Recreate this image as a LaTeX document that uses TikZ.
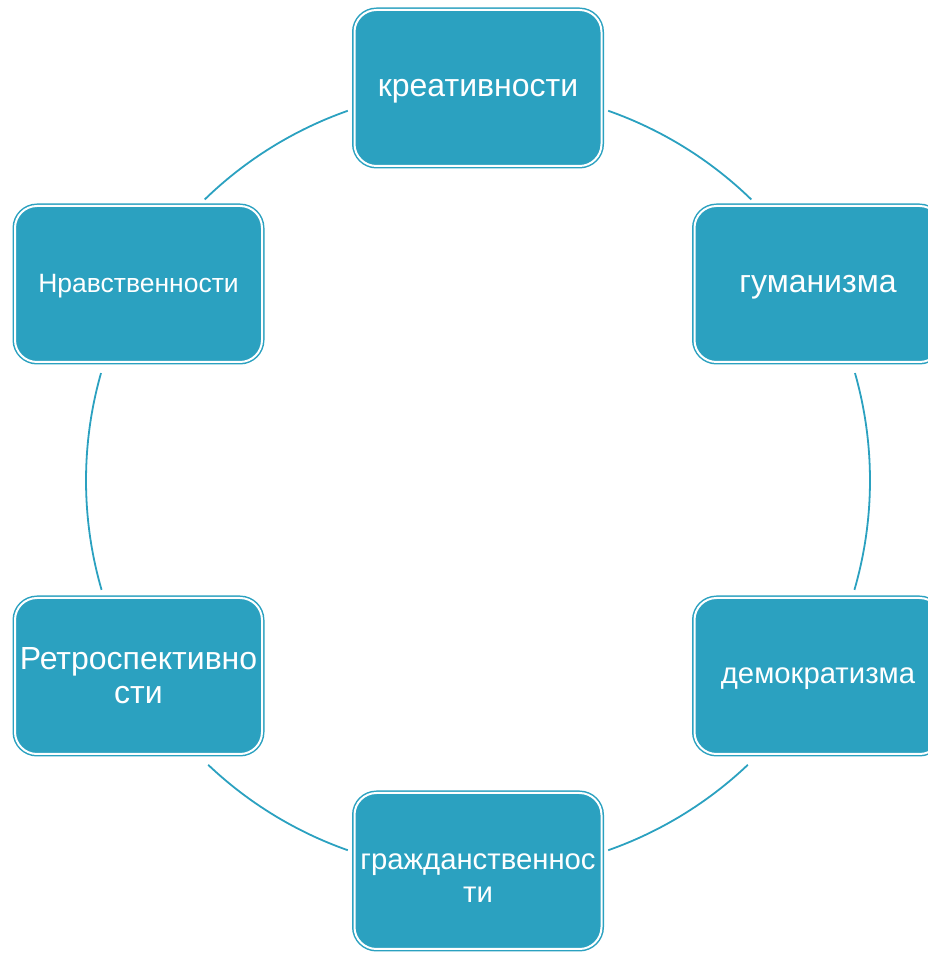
\documentclass[tikz,border=0pt]{standalone}
\usepackage{fontspec}
\setmainfont{Liberation Sans}
\definecolor{boxblue}{RGB}{43,161,192}
\begin{document}
\begin{tikzpicture}[x=1pt,y=1pt,
  vbox/.style={rectangle, rounded corners=22pt, minimum width=247pt, minimum height=156pt,
    fill=boxblue, draw=boxblue, line width=1.5pt, double=white, double distance=2pt,
    text=white, align=center, inner sep=0pt, font=\fontsize{32}{34}\selectfont},
  oneline/.style={text height=#1, text depth=0pt},
  ring/.style={draw=boxblue, line width=1.8pt}]
\useasboundingbox (0,0) rectangle (928,954);
\coordinate (c) at (478,473.5);
\def\R{392}
% ring arcs
\foreach \a/\b in {109.4/134.2, 164.1/196.2, 226.5/250.6, 70.6/45.8, 15.9/-16.2, -46.5/-70.6}{
  \draw[ring] ([shift={(\a:\R)}]c) arc[start angle=\a, end angle=\b, radius=\R];
}
\node[vbox, oneline=16.6pt] (kre) at (478,866) {креативности};
\node[vbox, oneline=16.6pt] (gum) at (818,670) {гуманизма};
\node[vbox, oneline=15.2pt, font=\fontsize{29.3}{32}\selectfont] (dem) at (818,278) {демократизма};
\node[vbox, font=\fontsize{29.3}{33}\selectfont] (gra) at (478,83) {\rule{0pt}{30pt}гражданственнос\\ти};
\node[vbox] (ret) at (138.5,278) {Ретроспективно\\сти};
\node[vbox, oneline=18pt, font=\fontsize{26.5}{30}\selectfont] (nra) at (138.5,670) {Нравственности};
\end{tikzpicture}
\end{document}
